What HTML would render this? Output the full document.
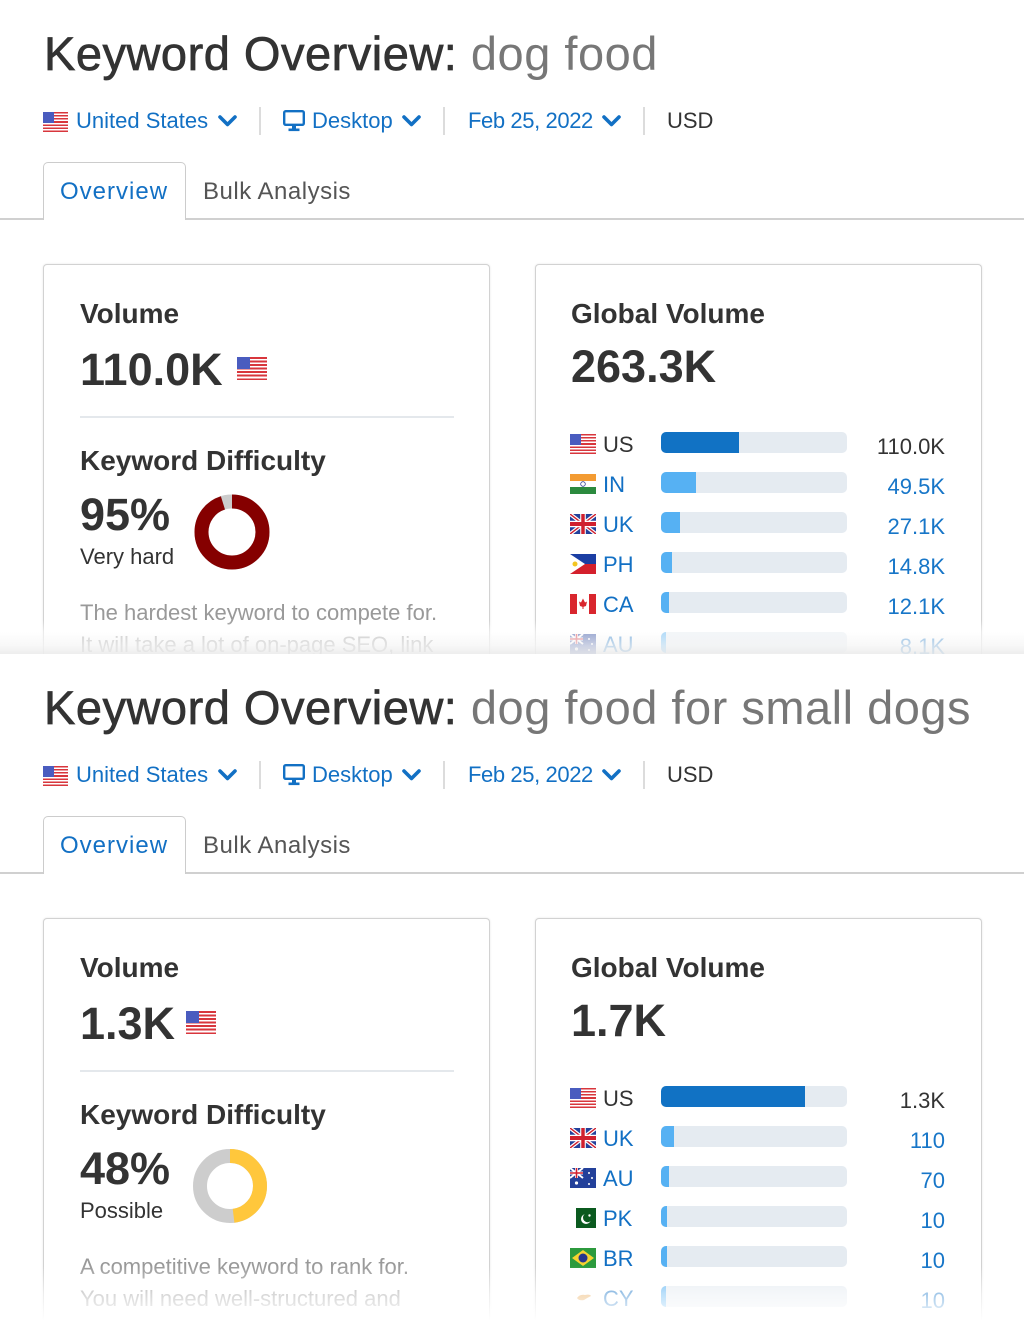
<!DOCTYPE html>
<html><head><meta charset="utf-8">
<style>
*{margin:0;padding:0;box-sizing:border-box}
html,body{width:1024px;height:1321px;background:#fff;overflow:hidden}
body{position:relative;font-family:"Liberation Sans",Arial,sans-serif;color:#333}
.sec{position:absolute;left:0;width:1024px;overflow:hidden;background:#fff}
#s1{top:0;height:654px}
#s2{top:654px;height:667px}
.a{position:absolute;white-space:nowrap;line-height:1}
.title{left:44px;top:30px;font-size:47px;letter-spacing:0.5px;color:#333}
.title b{font-weight:normal;-webkit-text-stroke:0.7px #333}
.title span{color:#777}
.lnk{font-size:22px;color:#1270c4;top:110px}
.sep{position:absolute;top:107px;width:2px;height:28px;background:#dcdcdc}
.chev{position:absolute;top:114px}
.tabline{position:absolute;left:0;top:218px;width:1024px;height:2px;background:#d0d0d0}
.tab{position:absolute;left:43px;top:162px;width:143px;height:58px;border:1px solid #ccc;border-bottom:none;border-radius:5px 5px 0 0;background:#fff}
.card{position:absolute;top:264px;width:447px;border:1px solid #d2d2d2;border-bottom:none;border-radius:4px 4px 0 0;box-shadow:0 0 2px rgba(0,0,0,.10);background:#fff}
#s1 .card{height:390px}
#s2 .card{height:403px}
.h{font-size:28px;font-weight:bold;color:#333;top:300px}
.big{font-size:45px;font-weight:bold;color:#333}
.div{position:absolute;left:80px;top:416px;width:374px;height:2px;background:#e4e8ec}
.desc{position:absolute;left:80px;top:597px;font-size:22px;line-height:32px;color:#999;white-space:nowrap}
.fus{position:absolute;background:repeating-linear-gradient(to bottom,#d8363c 0,#d8363c 7.7%,#fff 7.7%,#fff 15.4%)}
.fus::before{content:"";position:absolute;left:0;top:0;width:44%;height:54%;background:#4a5cbf}
.fl{position:absolute;left:570px;width:26px;height:20px}
.lab{left:603px;font-size:22px;color:#1270c4}
.bar{position:absolute;left:661px;width:186px;height:21px;border-radius:5px;background:#e5ebf1;overflow:hidden}
.bar i{position:absolute;left:0;top:0;height:21px;background:#56b1f3}
.bar i.d{background:#1172c4}
.val{left:800px;width:145px;text-align:right;font-size:22px;color:#1776c8}
.fade1{position:absolute;left:0;top:620px;width:1024px;height:34px;background:linear-gradient(to bottom,rgba(255,255,255,0) 0%,rgba(255,255,255,.55) 35%,rgba(246,246,246,.8) 75%,rgba(236,236,236,.92) 100%)}
.fade2{position:absolute;left:0;top:612px;width:1024px;height:55px;background:linear-gradient(to bottom,rgba(255,255,255,0) 0%,rgba(255,255,255,.6) 50%,rgba(255,255,255,1) 100%)}
</style></head>
<body>

<!-- ============ SECTION 1 ============ -->
<div class="sec" id="s1">
  <div class="a title"><b>Keyword Overview:</b> <span>dog food</span></div>

  <div class="fus" style="left:43px;top:112px;width:25px;height:20px"></div>
  <div class="a lnk" style="left:76px">United States</div>
  <svg class="chev" style="left:218px" width="19" height="14" viewBox="0 0 19 14"><polyline points="2,3 9.5,10.5 17,3" fill="none" stroke="#1270c4" stroke-width="3.6" stroke-linecap="round" stroke-linejoin="round"/></svg>
  <div class="sep" style="left:259px"></div>
  <svg style="position:absolute;left:283px;top:110px" width="22" height="22" viewBox="0 0 22 22"><rect x="1.2" y="1.2" width="19.6" height="13.6" rx="1.5" fill="none" stroke="#1270c4" stroke-width="2.4"/><rect x="9" y="15" width="4" height="4" fill="#1270c4"/><rect x="5.5" y="18.5" width="11" height="2.6" fill="#1270c4"/></svg>
  <div class="a lnk" style="left:312px">Desktop</div>
  <svg class="chev" style="left:402px" width="19" height="14" viewBox="0 0 19 14"><polyline points="2,3 9.5,10.5 17,3" fill="none" stroke="#1270c4" stroke-width="3.6" stroke-linecap="round" stroke-linejoin="round"/></svg>
  <div class="sep" style="left:443px"></div>
  <div class="a lnk" style="left:468px;letter-spacing:-0.4px">Feb 25, 2022</div>
  <svg class="chev" style="left:602px" width="19" height="14" viewBox="0 0 19 14"><polyline points="2,3 9.5,10.5 17,3" fill="none" stroke="#1270c4" stroke-width="3.6" stroke-linecap="round" stroke-linejoin="round"/></svg>
  <div class="sep" style="left:643px"></div>
  <div class="a lnk" style="left:667px;color:#333">USD</div>

  <div class="tabline"></div>
  <div class="tab"></div>
  <div class="a" style="left:60px;top:180px;font-size:24px;letter-spacing:1px;color:#1270c4">Overview</div>
  <div class="a" style="left:203px;top:180px;font-size:24px;letter-spacing:0.5px;color:#555">Bulk Analysis</div>

  <!-- left card -->
  <div class="card" style="left:43px"></div>
  <div class="a h" style="left:80px">Volume</div>
  <div class="a big" style="left:80px;top:347px">110.0K</div>
  <div class="fus" style="left:237px;top:357px;width:30px;height:23px"></div>
  <div class="div"></div>
  <div class="a h" style="left:80px;top:447px">Keyword Difficulty</div>
  <div class="a big" style="left:80px;top:492px">95%</div>
  <div class="a" style="left:80px;top:546px;font-size:22px;color:#333">Very hard</div>
  <svg style="position:absolute;left:194px;top:494px" width="76" height="76" viewBox="0 0 76 76">
    <circle cx="38" cy="38" r="30.5" fill="none" stroke="#cccccc" stroke-width="14"/>
    <circle cx="38" cy="38" r="30.5" fill="none" stroke="#850000" stroke-width="14" stroke-dasharray="182.1 500" transform="rotate(-90 38 38)"/>
  </svg>
  <div class="desc">The hardest keyword to compete for.<br>It will take a lot of on-page SEO, link</div>

  <!-- right card -->
  <div class="card" style="left:535px"></div>
  <div class="a h" style="left:571px">Global Volume</div>
  <div class="a big" style="left:571px;top:344px">263.3K</div>

  <div class="fus fl" style="top:434px"></div>
  <div class="a lab" style="top:434px;color:#333">US</div>
  <div class="bar" style="top:432px"><i class="d" style="width:78px"></i></div>
  <div class="a val" style="top:436px;color:#333">110.0K</div>

  <svg class="fl" style="top:474px" viewBox="0 0 26 20"><rect width="26" height="7" fill="#f39b32"/><rect y="7" width="26" height="6" fill="#fff"/><rect y="13" width="26" height="7" fill="#2b8a3e"/><circle cx="13" cy="10" r="2.3" fill="none" stroke="#2d3f93" stroke-width="0.8"/></svg>
  <div class="a lab" style="top:474px">IN</div>
  <div class="bar" style="top:472px"><i style="width:35px"></i></div>
  <div class="a val" style="top:476px">49.5K</div>

  <svg class="fl" style="top:514px" viewBox="0 0 60 40" preserveAspectRatio="none"><rect width="60" height="40" fill="#23409a"/><path d="M0,0 L60,40 M60,0 L0,40" stroke="#fff" stroke-width="8"/><path d="M0,0 L60,40 M60,0 L0,40" stroke="#d0202e" stroke-width="3"/><path d="M30,0 V40 M0,20 H60" stroke="#fff" stroke-width="13"/><path d="M30,0 V40 M0,20 H60" stroke="#d0202e" stroke-width="8"/></svg>
  <div class="a lab" style="top:514px">UK</div>
  <div class="bar" style="top:512px"><i style="width:19px"></i></div>
  <div class="a val" style="top:516px">27.1K</div>

  <svg class="fl" style="top:554px" viewBox="0 0 26 20"><rect width="26" height="10" fill="#1b3ea3"/><rect y="10" width="26" height="10" fill="#d4202c"/><path d="M0,0 L15,10 L0,20Z" fill="#fff"/><circle cx="5" cy="10" r="2.5" fill="#f3c521"/></svg>
  <div class="a lab" style="top:554px">PH</div>
  <div class="bar" style="top:552px"><i style="width:11px"></i></div>
  <div class="a val" style="top:556px">14.8K</div>

  <svg class="fl" style="top:594px" viewBox="0 0 26 20"><rect width="26" height="20" fill="#fff"/><rect width="7" height="20" fill="#d9262e"/><rect x="19" width="7" height="20" fill="#d9262e"/><path d="M13,4.5 L15,8.5 L17,7.5 L16,12 L13,13 L10,12 L9,7.5 L11,8.5Z" fill="#d9262e"/><rect x="12.5" y="12" width="1" height="3" fill="#d9262e"/></svg>
  <div class="a lab" style="top:594px">CA</div>
  <div class="bar" style="top:592px"><i style="width:8px"></i></div>
  <div class="a val" style="top:596px">12.1K</div>

  <svg class="fl" style="top:634px" viewBox="0 0 26 20"><rect width="26" height="20" fill="#23409a"/><path d="M0,0 L13,10 M13,0 L0,10" stroke="#fff" stroke-width="2"/><path d="M6.5,0 V10 M0,5 H13" stroke="#fff" stroke-width="3"/><path d="M6.5,0 V10 M0,5 H13" stroke="#d0202e" stroke-width="1.6"/><circle cx="6.5" cy="15" r="1.6" fill="#fff"/><circle cx="19" cy="5" r="1" fill="#fff"/><circle cx="22" cy="10" r="1" fill="#fff"/><circle cx="19" cy="16" r="1" fill="#fff"/></svg>
  <div class="a lab" style="top:634px">AU</div>
  <div class="bar" style="top:632px"><i style="width:5px"></i></div>
  <div class="a val" style="top:636px">8.1K</div>

  <div class="fade1"></div>
</div>

<!-- ============ SECTION 2 ============ -->
<div class="sec" id="s2">
  <div class="a title"><b>Keyword Overview:</b> <span>dog food for small dogs</span></div>

  <div class="fus" style="left:43px;top:112px;width:25px;height:20px"></div>
  <div class="a lnk" style="left:76px">United States</div>
  <svg class="chev" style="left:218px" width="19" height="14" viewBox="0 0 19 14"><polyline points="2,3 9.5,10.5 17,3" fill="none" stroke="#1270c4" stroke-width="3.6" stroke-linecap="round" stroke-linejoin="round"/></svg>
  <div class="sep" style="left:259px"></div>
  <svg style="position:absolute;left:283px;top:110px" width="22" height="22" viewBox="0 0 22 22"><rect x="1.2" y="1.2" width="19.6" height="13.6" rx="1.5" fill="none" stroke="#1270c4" stroke-width="2.4"/><rect x="9" y="15" width="4" height="4" fill="#1270c4"/><rect x="5.5" y="18.5" width="11" height="2.6" fill="#1270c4"/></svg>
  <div class="a lnk" style="left:312px">Desktop</div>
  <svg class="chev" style="left:402px" width="19" height="14" viewBox="0 0 19 14"><polyline points="2,3 9.5,10.5 17,3" fill="none" stroke="#1270c4" stroke-width="3.6" stroke-linecap="round" stroke-linejoin="round"/></svg>
  <div class="sep" style="left:443px"></div>
  <div class="a lnk" style="left:468px;letter-spacing:-0.4px">Feb 25, 2022</div>
  <svg class="chev" style="left:602px" width="19" height="14" viewBox="0 0 19 14"><polyline points="2,3 9.5,10.5 17,3" fill="none" stroke="#1270c4" stroke-width="3.6" stroke-linecap="round" stroke-linejoin="round"/></svg>
  <div class="sep" style="left:643px"></div>
  <div class="a lnk" style="left:667px;color:#333">USD</div>

  <div class="tabline"></div>
  <div class="tab"></div>
  <div class="a" style="left:60px;top:180px;font-size:24px;letter-spacing:1px;color:#1270c4">Overview</div>
  <div class="a" style="left:203px;top:180px;font-size:24px;letter-spacing:0.5px;color:#555">Bulk Analysis</div>

  <!-- left card -->
  <div class="card" style="left:43px"></div>
  <div class="a h" style="left:80px">Volume</div>
  <div class="a big" style="left:80px;top:347px">1.3K</div>
  <div class="fus" style="left:186px;top:357px;width:30px;height:23px"></div>
  <div class="div"></div>
  <div class="a h" style="left:80px;top:447px">Keyword Difficulty</div>
  <div class="a big" style="left:80px;top:492px">48%</div>
  <div class="a" style="left:80px;top:546px;font-size:22px;color:#333">Possible</div>
  <svg style="position:absolute;left:192px;top:494px" width="76" height="76" viewBox="0 0 76 76">
    <circle cx="38" cy="38" r="30" fill="none" stroke="#cdcdcd" stroke-width="14"/>
    <circle cx="38" cy="38" r="30" fill="none" stroke="#ffc73c" stroke-width="14" stroke-dasharray="90.5 500" transform="rotate(-90 38 38)"/>
  </svg>
  <div class="desc">A competitive keyword to rank for.<br>You will need well-structured and</div>

  <!-- right card -->
  <div class="card" style="left:535px"></div>
  <div class="a h" style="left:571px">Global Volume</div>
  <div class="a big" style="left:571px;top:344px">1.7K</div>

  <div class="fus fl" style="top:434px"></div>
  <div class="a lab" style="top:434px;color:#333">US</div>
  <div class="bar" style="top:432px"><i class="d" style="width:144px"></i></div>
  <div class="a val" style="top:436px;color:#333">1.3K</div>

  <svg class="fl" style="top:474px" viewBox="0 0 60 40" preserveAspectRatio="none"><rect width="60" height="40" fill="#23409a"/><path d="M0,0 L60,40 M60,0 L0,40" stroke="#fff" stroke-width="8"/><path d="M0,0 L60,40 M60,0 L0,40" stroke="#d0202e" stroke-width="3"/><path d="M30,0 V40 M0,20 H60" stroke="#fff" stroke-width="13"/><path d="M30,0 V40 M0,20 H60" stroke="#d0202e" stroke-width="8"/></svg>
  <div class="a lab" style="top:474px">UK</div>
  <div class="bar" style="top:472px"><i style="width:13px"></i></div>
  <div class="a val" style="top:476px">110</div>

  <svg class="fl" style="top:514px" viewBox="0 0 26 20"><rect width="26" height="20" fill="#23409a"/><path d="M0,0 L13,10 M13,0 L0,10" stroke="#fff" stroke-width="2"/><path d="M6.5,0 V10 M0,5 H13" stroke="#fff" stroke-width="3"/><path d="M6.5,0 V10 M0,5 H13" stroke="#d0202e" stroke-width="1.6"/><circle cx="6.5" cy="15" r="1.6" fill="#fff"/><circle cx="19" cy="5" r="1" fill="#fff"/><circle cx="22" cy="10" r="1" fill="#fff"/><circle cx="19" cy="16" r="1" fill="#fff"/></svg>
  <div class="a lab" style="top:514px">AU</div>
  <div class="bar" style="top:512px"><i style="width:8px"></i></div>
  <div class="a val" style="top:516px">70</div>

  <svg class="fl" style="top:554px" viewBox="0 0 26 20"><rect width="26" height="20" fill="#fff"/><rect x="6" width="20" height="20" fill="#0b5a1f"/><circle cx="16" cy="11" r="5" fill="#fff"/><circle cx="17.6" cy="9.6" r="4.6" fill="#0b5a1f"/><circle cx="19.5" cy="7.5" r="1.2" fill="#fff"/></svg>
  <div class="a lab" style="top:554px">PK</div>
  <div class="bar" style="top:552px"><i style="width:6px"></i></div>
  <div class="a val" style="top:556px">10</div>

  <svg class="fl" style="top:594px" viewBox="0 0 26 20"><rect width="26" height="20" fill="#2c9a3d"/><path d="M13,2 L24,10 L13,18 L2,10Z" fill="#f5d230"/><circle cx="13" cy="10" r="4.5" fill="#27368c"/></svg>
  <div class="a lab" style="top:594px">BR</div>
  <div class="bar" style="top:592px"><i style="width:6px"></i></div>
  <div class="a val" style="top:596px">10</div>

  <svg class="fl" style="top:634px" viewBox="0 0 26 20"><rect width="26" height="20" fill="#fff"/><path d="M7,10 Q10,6 15,7 Q20,6 21,8 Q17,10 14,12 Q9,13 7,10Z" fill="#e9a64f"/></svg>
  <div class="a lab" style="top:634px">CY</div>
  <div class="bar" style="top:632px"><i style="width:5px"></i></div>
  <div class="a val" style="top:636px">10</div>

  <div class="fade2"></div>
</div>

</body></html>
